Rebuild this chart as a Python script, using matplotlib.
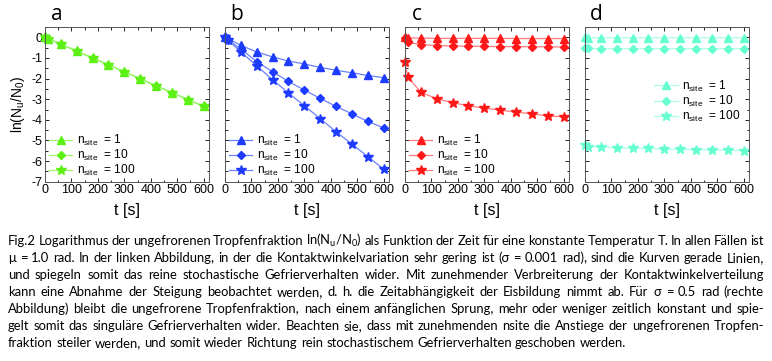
import matplotlib
matplotlib.use('Agg')
import matplotlib.pyplot as plt
import numpy as np
from matplotlib.ticker import MultipleLocator

plt.rcParams['font.family'] = ['Liberation Sans', 'DejaVu Sans']
plt.rcParams['axes.unicode_minus'] = False

# time points [s]
t = [0, 10, 60, 120, 180, 240, 300, 360, 420, 480, 540, 600]

# panel a (sigma = 0.001 rad): all three curves coincide
a_n1 = [0, -0.06, -0.33, -0.67, -1.0, -1.34, -1.67, -2.01, -2.35, -2.68, -3.02, -3.35]
a_n10 = [0, -0.06, -0.33, -0.67, -1.0, -1.34, -1.67, -2.01, -2.35, -2.68, -3.02, -3.35]
a_n100 = [0, -0.06, -0.33, -0.67, -1.0, -1.34, -1.67, -2.01, -2.35, -2.68, -3.02, -3.35]

# panel b
b_n1 = [0, -0.05, -0.39, -0.71, -0.95, -1.15, -1.29, -1.46, -1.6, -1.72, -1.85, -1.96]
b_n10 = [0, -0.11, -0.57, -1.18, -1.67, -2.14, -2.56, -2.96, -3.35, -3.71, -4.08, -4.39]
b_n100 = [0, -0.12, -0.71, -1.38, -2.06, -2.7, -3.32, -3.94, -4.58, -5.18, -5.78, -6.4]

# panel c
c_n1 = [0, -0.03, -0.04, -0.05, -0.05, -0.05, -0.05, -0.05, -0.06, -0.06, -0.06, -0.06]
c_n10 = [-0.05, -0.24, -0.35, -0.4, -0.42, -0.43, -0.44, -0.45, -0.45, -0.46, -0.46, -0.47]
c_n100 = [-1.2, -1.91, -2.66, -2.98, -3.17, -3.32, -3.43, -3.53, -3.63, -3.71, -3.81, -3.85]

# panel d (sigma = 0.5 rad)
d_n1 = [0, -0.02, -0.02, -0.02, -0.02, -0.02, -0.02, -0.02, -0.02, -0.02, -0.02, -0.02]
d_n10 = [-0.5, -0.54, -0.55, -0.55, -0.55, -0.55, -0.55, -0.55, -0.55, -0.55, -0.55, -0.55]
d_n100 = [-5.22, -5.3, -5.33, -5.35, -5.37, -5.39, -5.41, -5.43, -5.45, -5.46, -5.48, -5.49]

labels = [r'n$_\mathregular{site}$  = 1', r'n$_\mathregular{site}$  = 10', r'n$_\mathregular{site}$  = 100']
letters = ['a', 'b', 'c', 'd']
colors = ['#5cf014', '#1e3cff', '#ff1818', '#66ffd2']
line_colors = ['#9cf56e', '#6a80ff', '#ff7a7a', '#a8ffe6']
panels = [(a_n1, a_n10, a_n100), (b_n1, b_n10, b_n100),
          (c_n1, c_n10, c_n100), (d_n1, d_n10, d_n100)]

caption = [
    r'Fig.2 Logarithmus der ungefrorenen Tropfenfraktion ln(N$_\mathregular{u}$/N$_\mathregular{0}$) als Funktion der Zeit für eine konstante Temperatur T. In allen Fällen ist',
    'μ = 1.0 rad. In der linken Abbildung, in der die Kontaktwinkelvariation sehr gering ist (σ = 0.001 rad), sind die Kurven gerade Linien,',
    'und spiegeln somit das reine stochastische Gefrierverhalten wider. Mit zunehmender Verbreiterung der Kontaktwinkelverteilung',
    'kann eine Abnahme der Steigung beobachtet werden, d. h. die Zeitabhängigkeit der Eisbildung nimmt ab. Für σ = 0.5 rad (rechte',
    'Abbildung) bleibt die ungefrorene Tropfenfraktion, nach einem anfänglichen Sprung, mehr oder weniger zeitlich konstant und spie-',
    'gelt somit das singuläre Gefrierverhalten wider. Beachten sie, dass mit zunehmenden nsite die Anstiege der ungefrorenen Tropfen-',
    'fraktion steiler werden, und somit wieder Richtung rein stochastischem Gefrierverhalten geschoben werden.',
]

W, H = 772, 361
fig = plt.figure(figsize=(W/100, H/100), dpi=100)

lefts = [45, 225, 405, 585]
for i in range(4):
    ax = fig.add_axes([lefts[i]/W, 1 - 181.7/H, 164/W, 154.7/H])
    for ys, m, ms, lab in zip(panels[i], ['^', 'D', '*'], [6, 4.5, 7], labels):
        ax.plot(t, ys, color=line_colors[i], lw=0.9, marker=m, ms=ms,
                mfc=colors[i], mec=colors[i], label=lab, clip_on=False)
    ax.set_xlim(0, 620)
    ax.set_ylim(-7, 0.5)
    ax.xaxis.set_major_locator(MultipleLocator(100))
    ax.xaxis.set_minor_locator(MultipleLocator(50))
    ax.yaxis.set_major_locator(MultipleLocator(1))
    ax.yaxis.set_minor_locator(MultipleLocator(0.5))
    ax.tick_params(which='both', direction='in', top=True, right=True,
                   labelsize=9, pad=2, width=0.6)
    ax.tick_params(which='major', length=3)
    ax.tick_params(which='minor', length=1.8)
    for s in ax.spines.values():
        s.set_linewidth(0.7)
        s.set_color('#555555')
    if i > 0:
        ax.set_yticklabels([])
    else:
        ax.set_ylabel(r'ln(N$_\mathregular{u}$/N$_\mathregular{0}$)', fontsize=10, labelpad=3)
    ax.set_xlabel('t [s]', fontsize=11.5, labelpad=5)
    ax.text(0.07, 1.08, letters[i], transform=ax.transAxes, fontsize=15,
            ha='center', va='center', family='Open Sans')
    leg_kw = dict(frameon=False, fontsize=8.6, handlelength=2.0, labelspacing=0.0,
                  handletextpad=0.35, borderpad=0.2)
    if i < 3:
        ax.legend(loc='lower left', borderaxespad=0.1, **leg_kw)
    else:
        ax.legend(loc='center right', bbox_to_anchor=(1.0, 0.52), **leg_kw)

# caption, justified word by word
cap_font = dict(family=['Lato', 'DejaVu Sans'], fontsize=9.4)
renderer = fig.canvas.get_renderer()
x0, x1 = 8, 764
for k, line in enumerate(caption):
    yb = 1 - (245 + 17*k)/H
    words = line.split(' ')
    texts = [fig.text(0, yb, w, va='baseline', ha='left', **cap_font) for w in words]
    widths = [tx.get_window_extent(renderer).width for tx in texts]
    if k < len(caption) - 1:
        gap = (x1 - x0 - sum(widths)) / (len(words) - 1)
    else:
        sp = fig.text(0, 0, 'a a', **cap_font)
        sp2 = fig.text(0, 0, 'aa', **cap_font)
        gap = sp.get_window_extent(renderer).width - sp2.get_window_extent(renderer).width
        sp.remove(); sp2.remove()
    x = x0
    for tx, w in zip(texts, widths):
        tx.set_x(x/W)
        x += w + gap

fig.savefig('out.png', dpi=100)
